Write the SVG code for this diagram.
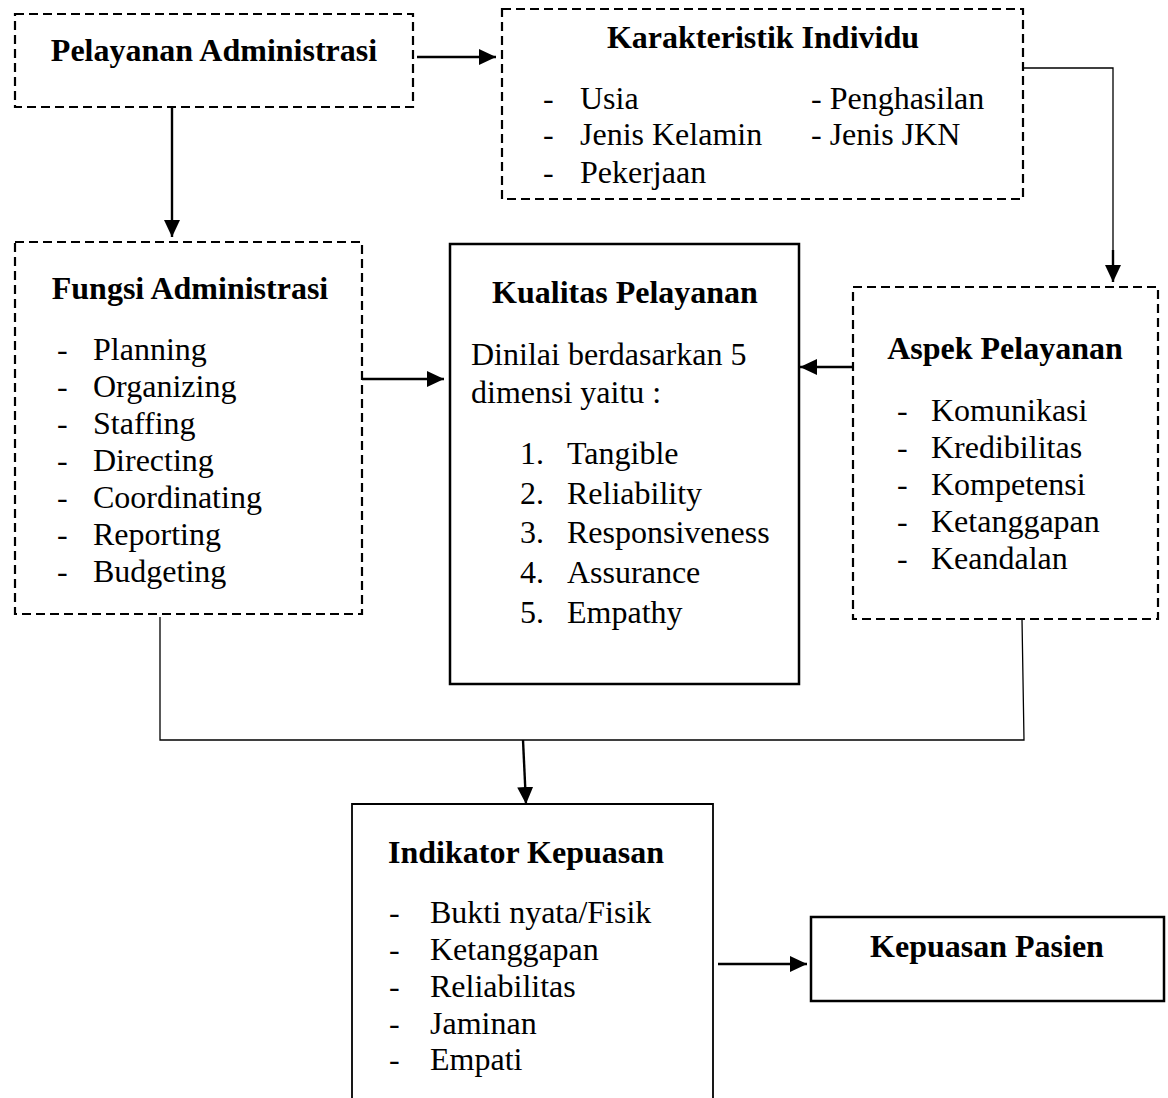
<svg xmlns="http://www.w3.org/2000/svg" width="1168" height="1098" viewBox="0 0 1168 1098">
<style>
text{font-family:"Liberation Serif","Times New Roman",serif;font-size:32px;fill:#000}
.t{font-weight:bold;text-anchor:middle}
.d{fill:none;stroke:#000;stroke-width:2.2;stroke-dasharray:9 5}
.s{fill:none;stroke:#000;stroke-width:2.5}
.ln{fill:none;stroke:#000;stroke-width:2.4}
.th{fill:none;stroke:#000;stroke-width:1.3}
</style>
<defs>
<marker id="ah" markerUnits="userSpaceOnUse" markerWidth="18" markerHeight="16" refX="17" refY="8" orient="auto">
<path d="M0,0 L17,8 L0,16 Z" fill="#000"/>
</marker>
</defs>
<rect width="1168" height="1098" fill="#fff"/>
<g id="connectors">
<line class="ln" x1="417" y1="57" x2="496" y2="57" marker-end="url(#ah)"/>
<line class="ln" x1="172" y1="107" x2="172" y2="237" marker-end="url(#ah)"/>
<polyline class="th" points="1024,68 1113,68 1113,262"/>
<line class="ln" x1="1113" y1="250" x2="1113" y2="282" marker-end="url(#ah)"/>
<line class="ln" x1="362" y1="379" x2="444" y2="379" marker-end="url(#ah)"/>
<line class="ln" x1="853" y1="367" x2="800" y2="367" marker-end="url(#ah)"/>
<polyline class="th" points="160,617 160,740 1024,740 1022,619"/>
<line class="ln" x1="523" y1="740" x2="526" y2="804" marker-end="url(#ah)"/>
<line class="ln" x1="718" y1="964" x2="807" y2="964" marker-end="url(#ah)"/>
</g>
<g id="pelayanan-administrasi">
<rect class="d" x="15" y="14" width="398" height="93"/>
<text class="t" x="214" y="61">Pelayanan Administrasi</text>
</g>
<g id="karakteristik-individu">
<rect class="d" x="502" y="9" width="521" height="190"/>
<text class="t" x="763" y="48">Karakteristik Individu</text>
<text x="543" y="109">-</text><text x="580" y="109">Usia</text>
<text x="543" y="145">-</text><text x="580" y="145">Jenis Kelamin</text>
<text x="543" y="183">-</text><text x="580" y="183">Pekerjaan</text>
<text x="811" y="109">- Penghasilan</text>
<text x="811" y="145">- Jenis JKN</text>
</g>
<g id="fungsi-administrasi">
<rect class="d" x="15" y="242" width="347" height="372"/>
<text class="t" x="190" y="299">Fungsi Administrasi</text>
<text x="57" y="360">-</text><text x="93" y="360">Planning</text>
<text x="57" y="397">-</text><text x="93" y="397">Organizing</text>
<text x="57" y="434">-</text><text x="93" y="434">Staffing</text>
<text x="57" y="471">-</text><text x="93" y="471">Directing</text>
<text x="57" y="508">-</text><text x="93" y="508">Coordinating</text>
<text x="57" y="545">-</text><text x="93" y="545">Reporting</text>
<text x="57" y="582">-</text><text x="93" y="582">Budgeting</text>
</g>
<g id="kualitas-pelayanan">
<rect class="s" x="450" y="244" width="349" height="440"/>
<text class="t" x="625" y="303">Kualitas Pelayanan</text>
<text x="471" y="365">Dinilai berdasarkan 5</text>
<text x="471" y="403">dimensi yaitu :</text>
<text x="520" y="464">1.</text><text x="567" y="464">Tangible</text>
<text x="520" y="504">2.</text><text x="567" y="504">Reliability</text>
<text x="520" y="543">3.</text><text x="567" y="543">Responsiveness</text>
<text x="520" y="583">4.</text><text x="567" y="583">Assurance</text>
<text x="520" y="623">5.</text><text x="567" y="623">Empathy</text>
</g>
<g id="aspek-pelayanan">
<rect class="d" x="853" y="287" width="305" height="332"/>
<text class="t" x="1005" y="359">Aspek Pelayanan</text>
<text x="897" y="421">-</text><text x="931" y="421">Komunikasi</text>
<text x="897" y="458">-</text><text x="931" y="458">Kredibilitas</text>
<text x="897" y="495">-</text><text x="931" y="495">Kompetensi</text>
<text x="897" y="532">-</text><text x="931" y="532">Ketanggapan</text>
<text x="897" y="569">-</text><text x="931" y="569">Keandalan</text>
</g>
<g id="indikator-kepuasan">
<polyline fill="none" stroke="#000" stroke-width="1.8" points="352,1100 352,804 713,804 713,1100"/>
<text class="t" x="526" y="863">Indikator Kepuasan</text>
<text x="389" y="923">-</text><text x="430" y="923">Bukti nyata/Fisik</text>
<text x="389" y="960">-</text><text x="430" y="960">Ketanggapan</text>
<text x="389" y="997">-</text><text x="430" y="997">Reliabilitas</text>
<text x="389" y="1034">-</text><text x="430" y="1034">Jaminan</text>
<text x="389" y="1070">-</text><text x="430" y="1070">Empati</text>
</g>
<g id="kepuasan-pasien">
<rect class="s" x="811" y="917" width="353" height="84"/>
<text class="t" x="987" y="957">Kepuasan Pasien</text>
</g>
</svg>
